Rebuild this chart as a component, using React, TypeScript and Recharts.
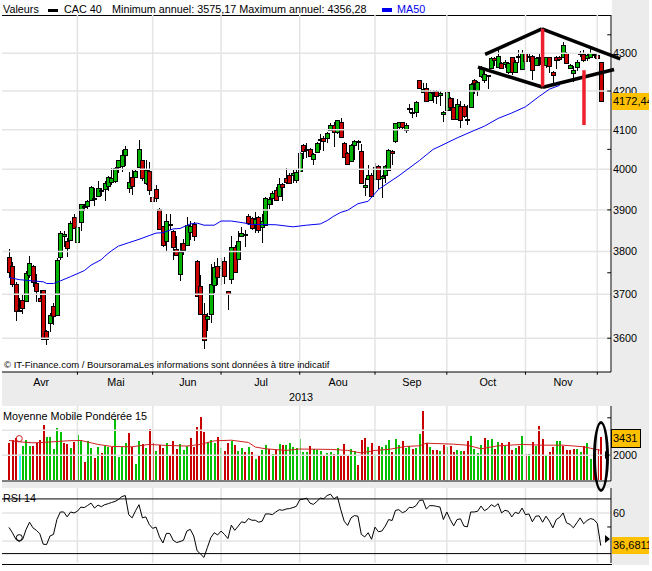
import { Bar, ComposedChart, Line, ReferenceDot, ReferenceLine, XAxis, YAxis } from 'recharts'

// daily CAC 40 candles, session 0 = start of April 2013
const opens = [
  3788, 3766, 3725, 3663, 3688, 3685, 3745, 3765, 3727, 3692,
  3709, 3617, 3634, 3674, 3654, 3785, 3837, 3826, 3827, 3883,
  3824, 3871, 3907, 3909, 3924, 3930, 3934, 3946, 3950, 3959,
  3968, 3970, 4004, 4008, 4035, 3953, 3980, 3980, 4005, 4022,
  3964, 3995, 3931, 3951, 3902, 3860, 3824, 3863, 3849, 3806,
  3746, 3821, 3815, 3846, 3866, 3777, 3720, 3654, 3643, 3656,
  3720, 3767, 3763, 3777, 3708, 3735, 3810, 3781, 3838, 3841,
  3885, 3880, 3866, 3883, 3858, 3863, 3914, 3928, 3949, 3933,
  3963, 3978, 3987, 3985, 3972, 3998, 4060, 4049, 4051, 4025,
  4042, 4073, 4080, 4080, 4100, 4111, 4092, 4121, 4066, 4042,
  4019, 4060, 4068, 4047, 3956, 3978, 3985, 3976, 4009, 3980,
  3984, 4000, 4045, 4069, 4105, 4119, 4099, 4153, 4143, 4147,
  4228, 4197, 4208, 4176, 4194, 4201, 4188, 4139, 4150, 4182,
  4158, 4127, 4162, 4160, 4127, 4158, 4230, 4203, 4241, 4229,
  4239, 4261, 4287, 4265, 4274, 4271, 4250, 4289, 4252, 4290,
  4257, 4300, 4292, 4294, 4268, 4290, 4270, 4267, 4289, 4250,
  4291, 4291, 4290, 4302, 4263, 4248, 4265, 4298, 4297, 4287,
  4290, 4296, 4296, 4276,
]
const closes = [
  3752, 3725, 3663, 3665, 3669, 3750, 3772, 3727, 3708, 3685,
  3598, 3598, 3652, 3652, 3781, 3843, 3841, 3810, 3868, 3856,
  3859, 3914, 3910, 3922, 3956, 3927, 3953, 3949, 3966, 3982,
  3979, 4002, 4022, 4035, 4050, 3968, 3958, 3995, 4050, 3976,
  3997, 3949, 3921, 3928, 3854, 3815, 3873, 3866, 3810, 3792,
  3798, 3805, 3863, 3860, 3838, 3696, 3656, 3596, 3650, 3725,
  3763, 3742, 3767, 3741, 3701, 3810, 3752, 3824, 3844, 3842,
  3869, 3856, 3878, 3852, 3872, 3929, 3927, 3941, 3924, 3963,
  3956, 3968, 3968, 3990, 3993, 4042, 4044, 4051, 4034, 4038,
  4066, 4076, 4072, 4092, 4113, 4092, 4124, 4082, 4030, 4015,
  4060, 4071, 4071, 3967, 3961, 3987, 3933, 4005, 3976, 3984,
  4007, 4049, 4040, 4116, 4119, 4105, 4113, 4155, 4145, 4172,
  4208, 4206, 4173, 4197, 4197, 4187, 4194, 4145, 4198, 4158,
  4127, 4166, 4127, 4134, 4128, 4219, 4221, 4225, 4259, 4245,
  4241, 4287, 4281, 4294, 4261, 4277, 4274, 4250, 4278, 4293,
  4300, 4278, 4294, 4257, 4287, 4291, 4287, 4289, 4265, 4243,
  4284, 4285, 4322, 4274, 4270, 4256, 4278, 4302, 4280, 4296,
  4302, 4297, 4287, 4172,
]
const highs = [
  3805, 3776, 3729, 3692, 3701, 3755, 3789, 3768, 3747, 3709,
  3711, 3619, 3656, 3679, 3784, 3850, 3848, 3832, 3872, 3889,
  3880, 3915, 3915, 3924, 3959, 3954, 3972, 3954, 3970, 3984,
  4002, 4005, 4023, 4048, 4059, 3994, 3997, 4000, 4073, 4023,
  4022, 4019, 3962, 3962, 3905, 3862, 3890, 3889, 3852, 3837,
  3820, 3829, 3883, 3872, 3870, 3781, 3745, 3679, 3656, 3771,
  3776, 3784, 3785, 3788, 3708, 3837, 3815, 3848, 3859, 3852,
  3889, 3883, 3895, 3886, 3891, 3932, 3932, 3945, 3956, 3978,
  3966, 4002, 3990, 4000, 4000, 4044, 4063, 4066, 4053, 4042,
  4068, 4088, 4083, 4093, 4117, 4120, 4126, 4129, 4069, 4044,
  4063, 4075, 4073, 4063, 3978, 4011, 3990, 4015, 4011, 3986,
  4011, 4050, 4048, 4118, 4120, 4120, 4116, 4165, 4156, 4173,
  4230, 4220, 4222, 4204, 4204, 4204, 4200, 4147, 4200, 4184,
  4182, 4178, 4173, 4165, 4163, 4222, 4232, 4226, 4265, 4252,
  4243, 4289, 4289, 4309, 4277, 4283, 4278, 4291, 4281, 4309,
  4309, 4303, 4297, 4296, 4289, 4300, 4296, 4291, 4291, 4252,
  4293, 4293, 4330, 4304, 4271, 4265, 4283, 4306, 4309, 4300,
  4313, 4300, 4300, 4278,
]
const lows = [
  3737, 3717, 3638, 3660, 3655, 3683, 3737, 3717, 3683, 3683,
  3595, 3584, 3614, 3630, 3653, 3781, 3811, 3788, 3824, 3854,
  3820, 3848, 3897, 3901, 3923, 3909, 3933, 3933, 3921, 3946,
  3962, 3966, 3992, 3994, 4008, 3941, 3937, 3978, 4002, 3970,
  3962, 3937, 3889, 3919, 3852, 3811, 3799, 3852, 3780, 3789,
  3731, 3791, 3813, 3828, 3824, 3694, 3655, 3575, 3617, 3635,
  3703, 3721, 3721, 3723, 3665, 3723, 3750, 3780, 3836, 3811,
  3864, 3852, 3845, 3845, 3821, 3862, 3901, 3913, 3921, 3931,
  3921, 3964, 3964, 3966, 3966, 3994, 4027, 4028, 4030, 4011,
  4040, 4048, 4047, 4065, 4098, 4055, 4090, 4080, 4028, 4011,
  4018, 4023, 4048, 3966, 3935, 3976, 3932, 3974, 3950, 3929,
  3967, 3998, 4011, 4067, 4103, 4103, 4092, 4142, 4129, 4132,
  4206, 4194, 4172, 4173, 4169, 4165, 4162, 4120, 4147, 4147,
  4125, 4125, 4104, 4129, 4112, 4156, 4191, 4187, 4235, 4220,
  4206, 4259, 4265, 4263, 4258, 4261, 4246, 4243, 4250, 4274,
  4255, 4274, 4278, 4230, 4265, 4265, 4243, 4261, 4248, 4217,
  4257, 4280, 4287, 4271, 4261, 4224, 4252, 4291, 4278, 4280,
  4287, 4287, 4277, 4172,
]

const ma50Days = [
  0, 3, 7, 10, 11, 13, 15, 18, 22, 24, 27, 28, 30, 32, 35, 38, 41, 43, 45, 48,
  50, 53, 55, 57, 60, 62, 65, 69, 70, 78, 81, 83, 87, 91, 93, 95, 97, 99, 102,
  105, 108, 114, 120, 124, 126, 131, 136, 139, 143, 147, 151, 155, 158, 161,
]
const ma50Values = [
  3739, 3734, 3731, 3729, 3725, 3725, 3731, 3741, 3755, 3768, 3781, 3789, 3802, 3813, 3821, 3829, 3838, 3844, 3845, 3854,
  3855, 3866, 3868, 3863, 3863, 3873, 3873, 3868, 3865, 3864, 3861, 3859, 3863, 3866, 3874, 3885, 3894, 3899, 3915,
  3921, 3950, 3984, 4022, 4050, 4058, 4079, 4098, 4109, 4129, 4143, 4159, 4186, 4205, 4215,
]

const volumes = [
  2940, 3180, 3390, 2120, 2730, 3230, 2700, 2730, 2990, 3180,
  4450, 3440, 3490, 2460, 4210, 3890, 2960, 2860, 2540, 3020,
  3650, 3230, 1430, 3120, 2540, 1750, 2620, 2140, 2700, 2620,
  2650, 4920, 1830, 2650, 2940, 3810, 2670, 1270, 3100, 2860,
  2540, 4130, 2940, 2300, 2780, 2540, 2990, 1980, 3100, 2460,
  2860, 2380, 2700, 3410, 2620, 4290, 5080, 3890, 3020, 3250,
  2940, 3490, 2540, 2300, 2940, 3100, 2780, 2300, 2540, 2220,
  2620, 2220, 1670, 1980, 2380, 2780, 2460, 2060, 2410, 2860,
  2780, 2780, 2940, 2620, 2570, 3330, 2220, 2220, 2700, 2460,
  2410, 2300, 1910, 2140, 2220, 2060, 2540, 1910, 2860, 1910,
  2460, 2300, 1190, 3250, 3410, 2620, 2940, 2060, 2700, 2620,
  2780, 3180, 2220, 3330, 2780, 3100, 2540, 2750, 2460, 2540,
  3730, 5560, 2940, 2620, 2380, 2380, 2300, 2780, 2620, 2700,
  2220, 2380, 2300, 2300, 3100, 3570, 2460, 2140, 2780, 3410,
  3180, 3330, 2460, 3020, 2940, 2730, 3020, 2380, 2540, 2700,
  3570, 2060, 2060, 3020, 2750, 4370, 3330, 1910, 2220, 2620,
  3100, 3120, 2700, 2380, 2430, 2460, 2460, 2220, 2700, 2940,
  1670, 2140, 2460, 3431,
]
const volumeTones =
  'RRRCGGGRRR' + 'RGGGGGRRGR' + 'GGRGGRGRGG' + 'RGGGGRRGGR' + 'GRRGRRGRRR' +
  'GGGRRRRRGG' + 'GRGRRGRGGR' + 'GRGRGGRGRG' + 'RGGGGGGGRG' + 'GGRGGRGRRR' +
  'GGRRRGRGRG' + 'GGRGGRGGRG' + 'GRRGRRGRGR' + 'RGGRRGGGGR' + 'GGRGRGRRGR' +
  'GRGRGRRGRR' + 'GGRRRRGGRG' + 'GRRR'

const volumeMaDays = [
  0, 3, 7, 10, 17, 21, 24, 26, 30, 36, 41, 46, 52, 56, 60, 65, 70, 72, 75, 81, 85,
  94, 99, 103, 107, 111, 116, 120, 122, 130, 134, 138, 143, 150, 156, 162, 168, 173,
]
const volumeMaValues = [
  3180, 3070, 2990, 3020, 3150, 3180, 2990, 2860, 2700, 2670, 2860, 2780, 2730, 2860, 3150, 3200, 3020, 2650, 2510, 2380, 2490,
  2460, 2380, 2170, 2380, 2460, 2700, 2750, 2960, 2880, 2800, 2510, 2750, 2860, 2800, 2800, 2670, 2380,
]

const rsi = [
  49.7, 45.9, 41.2, 39.6, 41.2, 48.3, 53.4, 49.4, 47.6, 45.2,
  37.7, 37.5, 43.6, 44.7, 55.3, 60.7, 60.7, 57.2, 60.7, 60,
  61.2, 64.2, 63.8, 65.4, 67, 63.5, 65.6, 64.5, 65.9, 66.6,
  67.5, 68.2, 69.6, 71.7, 72.4, 58.8, 56.5, 61.6, 65.9, 56.5,
  57.2, 51.8, 49, 49.9, 42.9, 38.6, 45.4, 45.4, 40.5, 38.9,
  39.6, 40.5, 47.1, 48.3, 43.6, 33, 30.7, 28.3, 35.4, 42.4,
  45.9, 44.3, 47.1, 44.7, 41.7, 51.3, 47.6, 50.6, 53.7, 53,
  56, 54.8, 54.8, 53.4, 54.1, 59.3, 59.3, 58.8, 60.7, 62.3,
  61.9, 62.8, 63.1, 63.8, 64.7, 69.4, 69.9, 70.6, 67, 66.1,
  68.2, 70.6, 70.1, 72.4, 73.4, 70.1, 71.7, 62.3, 54.1, 51.1,
  56.5, 58.1, 57.7, 44.7, 42.9, 45.9, 41.2, 49.9, 46.6, 47.1,
  50.6, 55.3, 54.6, 61.9, 62.3, 60.2, 61.2, 64, 63.8, 65.2,
  68.9, 69.2, 62.8, 65.2, 65.2, 64.7, 64.2, 55.3, 60.7, 55.3,
  50.8, 55.3, 55.8, 50.6, 50.1, 60.7, 60.7, 61.2, 64.9, 61.6,
  63.1, 65.9, 64.5, 66.6, 60, 61.9, 61.2, 57.2, 60.5, 59.5,
  63.5, 58.8, 59.3, 53.7, 57.7, 57.9, 53.4, 57.7, 54.1, 49.4,
  55.3, 56.9, 60, 53, 51.8, 49.4, 53, 56.5, 52.3, 54.6,
  56, 55.3, 52.5, 36.7,
]

const monthStarts = [20, 42, 62, 85, 107, 128, 151, 172]
const monthLabelDays = [9.4, 31.3, 52.3, 73.7, 96.2, 117.8, 140, 162]
const monthLabels = ['Avr', 'Mai', 'Jun', 'Jul', 'Aou', 'Sep', 'Oct', 'Nov']

const priceTicks = [3600, 3700, 3800, 3900, 4000, 4100, 4200, 4300]
const priceMinorTicks = [3600, 3750, 3900, 4050, 4200, 4350]

// hand drawn diamond and the red strokes on top of the candles: [day, price] pairs
const diamondLines = [
  [[139.2, 4297], [155.8, 4366]],
  [[155.8, 4366], [178.7, 4285]],
  [[137.1, 4263], [156.1, 4210]],
  [[156.1, 4210], [176.9, 4257]],
]
const redStrokes = [
  [[156, 4366], [156, 4212]],
  [[168.1, 4255], [168.1, 4112]],
]

const RED = '#c80000'
const GREEN = '#00b400'
const GRID = '#e4e4e4'
const GUTTER = '#ececec'
const FONT = '"Liberation Sans", Arial, sans-serif'
const X_DOMAIN = [-2.05, 176]

const sessions = opens.map((_, i) => i)
const ma50ByDay = new Map(ma50Days.map((d, i) => [d, ma50Values[i]]))
const volumeMaByDay = new Map(volumeMaDays.map((d, i) => [d, volumeMaValues[i]]))

const priceRows = sessions.map((day) => ({
  day,
  range: [lows[day], highs[day]],
  body: [Math.min(opens[day], closes[day]), Math.max(opens[day], closes[day])],
  up: closes[day] >= opens[day],
  ma50: ma50ByDay.get(day) ?? null,
}))
const volumeRows = sessions.map((day) => ({
  day,
  volume: volumes[day],
  tone: volumeTones[day],
  ma: volumeMaByDay.get(day) ?? null,
}))
const rsiRows = sessions.map((day) => ({ day, rsi: rsi[day] }))

function Wick({ x, y, width, height }: any) {
  const cx = Math.round(x + width / 2) + 0.5
  return <line x1={cx} x2={cx} y1={y} y2={y + height} stroke="#000" strokeWidth={1} shapeRendering="crispEdges" />
}

function Body({ x, y, width, height, payload }: any) {
  const cx = Math.round(x + width / 2)
  return (
    <rect
      x={cx - 1.5}
      y={Math.round(y) + 0.5}
      width={4}
      height={Math.max(Math.round(height), 1)}
      fill={payload.up ? GREEN : RED}
      stroke="#000"
      strokeWidth={1}
      shapeRendering="crispEdges"
    />
  )
}

function VolumeBar({ x, y, width, height, payload }: any) {
  const fill = payload.tone === 'C' ? '#40f0ff' : payload.tone === 'R' ? RED : '#00c000'
  return <rect x={Math.round(x)} y={y} width={2} height={height} fill={fill} shapeRendering="crispEdges" />
}

function MonthLines() {
  return monthStarts.map((m) => (
    <ReferenceLine key={m} xAxisId="body" x={m} stroke={GRID} strokeWidth={1.5} />
  ))
}

const tickStyle = { fill: '#000', fontSize: 10.8, fontFamily: FONT }

function Tag({ top, width, text, border }: { top: number; width: number; text: string; border?: boolean }) {
  return (
    <div
      style={{
        position: 'absolute',
        left: 612,
        top,
        width,
        height: 17,
        lineHeight: '17px',
        background: '#ffc000',
        fontSize: 11,
        paddingLeft: 1,
        boxSizing: 'border-box',
        overflow: 'hidden',
        whiteSpace: 'nowrap',
        outline: border ? '1px solid #000' : undefined,
      }}
    >
      {text}
    </div>
  )
}

function Label({ left, top, text, color = '#000', size = 10.8 }: { left: number; top: number; text: string; color?: string; size?: number }) {
  return (
    <div
      style={{
        position: 'absolute',
        left,
        top,
        fontSize: size,
        lineHeight: '13px',
        color,
        whiteSpace: 'nowrap',
      }}
    >
      {text}
    </div>
  )
}

function Arrow({ top }: { top: number }) {
  return (
    <div
      style={{
        position: 'absolute',
        left: 605,
        top,
        width: 0,
        height: 0,
        borderLeft: '5px solid #000',
        borderTop: '4px solid transparent',
        borderBottom: '4px solid transparent',
      }}
    />
  )
}

export default function App() {
  return (
    <div
      style={{
        position: 'absolute',
        left: 0,
        top: 0,
        width: 649,
        height: 565,
        background: '#fff',
        fontFamily: FONT,
        overflow: 'hidden',
      }}
    >
      {/* gray page parts behind the three panels */}
      <div style={{ position: 'absolute', left: 612, top: 0, width: 37, height: 565, background: GUTTER }} />
      <div style={{ position: 'absolute', left: 2, top: 372, width: 610, height: 34, background: GUTTER }} />
      <div style={{ position: 'absolute', left: 2, top: 482, width: 610, height: 6, background: GUTTER }} />
      <div style={{ position: 'absolute', left: 2, top: 15, width: 609, height: 1, background: '#000' }} />
      <div style={{ position: 'absolute', left: 2, top: 564, width: 610, height: 1, background: '#000' }} />

      <div style={{ position: 'absolute', left: 0, top: 15 }}>
        <ComposedChart
          width={649}
          height={391}
          data={priceRows}
          margin={{ top: 0, right: 0, bottom: 0, left: 2 }}
          barGap={0}
        >
          <XAxis
            xAxisId="body"
            type="number"
            dataKey="day"
            domain={X_DOMAIN}
            ticks={monthLabelDays}
            tickFormatter={(d: number) => monthLabels[monthLabelDays.indexOf(d)]}
            interval={0}
            height={34}
            tickLine={false}
            tickSize={0}
            tickMargin={6}
            axisLine={{ stroke: '#000' }}
            tick={tickStyle}
          />
          <XAxis xAxisId="wick" type="number" dataKey="day" domain={X_DOMAIN} hide />
          <YAxis
            orientation="right"
            scale="log"
            type="number"
            domain={[3525, 4404]}
            ticks={priceTicks}
            interval={0}
            width={38}
            allowDataOverflow
            tickLine={false}
            tickSize={0}
            tickMargin={2}
            axisLine={{ stroke: '#000' }}
            tick={tickStyle}
          />
          {priceTicks.map((p) => (
            <ReferenceLine key={p} xAxisId="body" y={p} stroke={GRID} strokeWidth={1.5} />
          ))}
          {MonthLines()}
          {monthStarts.map((m) => (
            <ReferenceLine
              key={m}
              xAxisId="body"
              ifOverflow="visible"
              stroke="#000"
              segment={[{ x: m, y: 3525 }, { x: m, y: 3519 }]}
            />
          ))}
          {priceMinorTicks.map((p) => (
            <ReferenceLine
              key={p}
              xAxisId="body"
              stroke="#000"
              segment={[{ x: 174.9, y: p }, { x: 176, y: p }]}
            />
          ))}
          <Line
            xAxisId="body"
            dataKey="ma50"
            stroke="#0000f0"
            strokeWidth={1}
            dot={false}
            connectNulls
            isAnimationActive={false}
          />
          <Bar xAxisId="wick" dataKey="range" barSize={1} shape={Wick} isAnimationActive={false} />
          <Bar xAxisId="body" dataKey="body" barSize={3} shape={Body} isAnimationActive={false} />
          {diamondLines.map(([a, b], i) => (
            <ReferenceLine
              key={i}
              xAxisId="body"
              ifOverflow="visible"
              stroke="#000"
              strokeWidth={3.5}
              segment={[{ x: a[0], y: a[1] }, { x: b[0], y: b[1] }]}
            />
          ))}
          {redStrokes.map(([a, b], i) => (
            <ReferenceLine
              key={i}
              xAxisId="body"
              ifOverflow="visible"
              stroke="#ee2030"
              strokeWidth={3.5}
              segment={[{ x: a[0], y: a[1] }, { x: b[0], y: b[1] }]}
            />
          ))}
        </ComposedChart>
      </div>

      <div style={{ position: 'absolute', left: 0, top: 406 }}>
        <ComposedChart
          width={649}
          height={76}
          data={volumeRows}
          margin={{ top: 0, right: 0, bottom: 0, left: 2 }}
        >
          <XAxis xAxisId="body" type="number" dataKey="day" domain={X_DOMAIN} height={1} tick={false} tickLine={false} axisLine={{ stroke: '#000' }} />
          <YAxis
            orientation="right"
            type="number"
            domain={[-80, 5950]}
            ticks={[2000]}
            interval={0}
            width={38}
            allowDataOverflow
            tickLine={false}
            tickSize={0}
            tickMargin={2}
            axisLine={{ stroke: '#000' }}
            tick={tickStyle}
          />
          {[2000, 4000].map((v) => (
            <ReferenceLine key={v} xAxisId="body" y={v} stroke={GRID} strokeWidth={1.5} />
          ))}
          {MonthLines()}
          <ReferenceLine xAxisId="body" stroke="#000" segment={[{ x: 174.9, y: 5000 }, { x: 176, y: 5000 }]} />
          <Bar xAxisId="body" dataKey="volume" barSize={2} shape={VolumeBar} isAnimationActive={false} />
          <Line
            xAxisId="body"
            dataKey="ma"
            stroke="#d02020"
            strokeWidth={1}
            dot={false}
            connectNulls
            isAnimationActive={false}
          />
          <ReferenceDot xAxisId="body" x={3} y={3330} r={3} fill="none" stroke="#d02020" />
        </ComposedChart>
      </div>

      <div style={{ position: 'absolute', left: 0, top: 488 }}>
        <ComposedChart
          width={649}
          height={76}
          data={rsiRows}
          margin={{ top: 0, right: 0, bottom: 0, left: 2 }}
        >
          <XAxis xAxisId="body" type="number" dataKey="day" domain={X_DOMAIN} height={1} tick={false} tickLine={false} axisLine={false} />
          <YAxis
            orientation="right"
            type="number"
            domain={[24.3, 77.8]}
            ticks={[60]}
            interval={0}
            width={38}
            allowDataOverflow
            tickLine={false}
            tickSize={0}
            tickMargin={2}
            axisLine={{ stroke: '#000' }}
            tick={tickStyle}
          />
          {[40, 60].map((v) => (
            <ReferenceLine key={v} xAxisId="body" y={v} stroke={GRID} strokeWidth={1.5} />
          ))}
          {MonthLines()}
          <ReferenceLine xAxisId="body" y={70} stroke="#000" />
          <ReferenceLine xAxisId="body" y={31} stroke="#000" />
          <ReferenceLine xAxisId="body" stroke="#000" segment={[{ x: 174.9, y: 50 }, { x: 176, y: 50 }]} />
          <Line
            xAxisId="body"
            dataKey="rsi"
            stroke="#000"
            strokeWidth={1}
            dot={false}
            isAnimationActive={false}
          />
          <ReferenceDot xAxisId="body" x={3} y={42.4} r={3} fill="none" stroke="#000" />
        </ComposedChart>
      </div>

      {/* header line */}
      <Label left={3} top={3} text="Valeurs" />
      <div style={{ position: 'absolute', left: 48, top: 9, width: 10, height: 3, background: '#000' }} />
      <Label left={64} top={3} text="CAC 40" />
      <Label left={112} top={3} text="Minimum annuel: 3575,17 Maximum annuel: 4356,28" />
      <div style={{ position: 'absolute', left: 382, top: 8, width: 10, height: 4, background: '#0000f0' }} />
      <Label left={397} top={3} text="MA50" color="#0000f0" />

      <Label left={4} top={358} size={9.5} text="© IT-Finance.com / BoursoramaLes informations sont données à titre indicatif" />
      <Label left={289} top={391} text="2013" />
      <Label left={3} top={410} text="Moyenne Mobile Pondérée 15" />
      <Label left={3} top={492} text="RSI 14" />

      <Tag top={93} width={37} text="4172,44" />
      <Tag top={430} width={28} text="3431" border />
      <Tag top={537} width={37} text="36,6811" />
      <Arrow top={451} />
      <Arrow top={535} />

      {/* circled last volume */}
      <div
        style={{
          position: 'absolute',
          left: 593,
          top: 421,
          width: 10,
          height: 65,
          border: '3px solid #000',
          borderRadius: '50%',
          boxSizing: 'content-box',
        }}
      />
    </div>
  )
}
